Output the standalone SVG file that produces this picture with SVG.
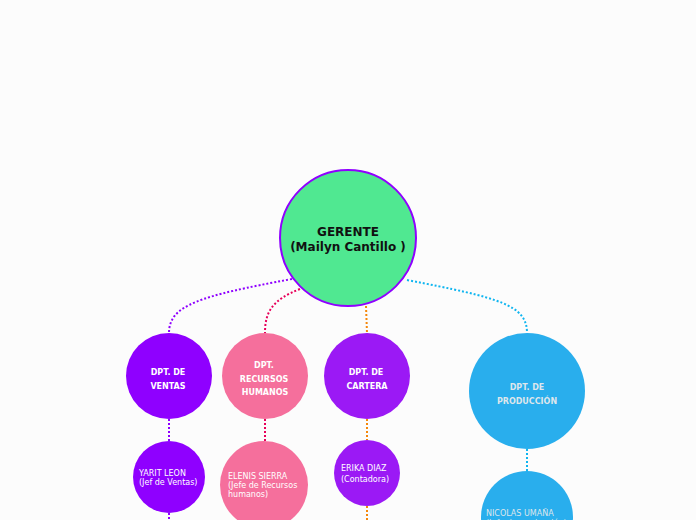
<svg xmlns="http://www.w3.org/2000/svg" width="696" height="520" viewBox="0 0 696 520">
<style>
.c{fill:none;stroke-width:2;stroke-dasharray:2 2}
.h{font-family:"DejaVu Sans",Verdana,sans-serif;font-weight:bold;font-size:12px;fill:#111;text-anchor:middle}
.d{font-family:"DejaVu Sans",Verdana,sans-serif;font-weight:bold;font-size:8px;fill:#fff;text-anchor:middle}
.p{font-family:"DejaVu Sans",Verdana,sans-serif;font-size:8px;fill:#fff}
</style>
<rect width="696" height="520" fill="#fcfcfc"/>
<g id="connectors">
<path class="c" stroke="#8f00ff" d="M292 279 C200 296 169 305 169 333"/>
<path class="c" stroke="#e8005a" d="M300 289 C272 300 265 312 265 333"/>
<path class="c" stroke="#f5870a" d="M366 306 L367 333"/>
<path class="c" stroke="#0fb5f0" d="M407 280 C500 298 527 305 527 333"/>
<path class="c" stroke="#8f00ff" d="M169 419 L169 441"/>
<path class="c" stroke="#8f00ff" d="M169 513 L169 520"/>
<path class="c" stroke="#e8005a" d="M265 419 L265 441"/>
<path class="c" stroke="#f5870a" d="M367 419 L367 440"/>
<path class="c" stroke="#f5870a" d="M367 506 L367 520"/>
<path class="c" stroke="#0fb5f0" d="M527 449 L527 471"/>
</g>
<g id="gerente">
<circle cx="348" cy="238" r="68" fill="#50e891" stroke="#8f00ff" stroke-width="2"/>
<text class="h" x="348" y="236">GERENTE</text>
<text class="h" x="348" y="251">(Mailyn Cantillo )</text>
</g>
<g id="ventas">
<circle cx="169" cy="376" r="43" fill="#8f00ff"/>
<text class="d" x="168" y="375">DPT. DE</text>
<text class="d" x="168" y="389">VENTAS</text>
</g>
<g id="rrhh">
<circle cx="265" cy="376" r="43" fill="#f56f9c"/>
<text class="d" x="264" y="368">DPT.</text>
<text class="d" x="264" y="382">RECURSOS</text>
<text class="d" x="265" y="395">HUMANOS</text>
</g>
<g id="cartera">
<circle cx="367" cy="376" r="43" fill="#9b19f5"/>
<text class="d" x="366" y="375">DPT. DE</text>
<text class="d" x="367" y="389">CARTERA</text>
</g>
<g id="produccion">
<circle cx="527" cy="391" r="58" fill="#29aeed"/>
<text class="d" x="527" y="390" fill="#dde6ec" style="fill:#dde6ec">DPT. DE</text>
<text class="d" x="527" y="404" style="fill:#dde6ec">PRODUCCIÓN</text>
</g>
<g id="yarit">
<circle cx="169" cy="477" r="36" fill="#8f00ff"/>
<text class="p" x="139" y="476">YARIT LEON</text>
<text class="p" x="139" y="485">(Jef de Ventas)</text>
</g>
<g id="elenis">
<circle cx="264" cy="485" r="44" fill="#f56f9c"/>
<text class="p" x="228" y="479">ELENIS SIERRA</text>
<text class="p" x="228" y="488">(Jefe de Recursos</text>
<text class="p" x="228" y="497">humanos)</text>
</g>
<g id="erika">
<circle cx="367" cy="473" r="33" fill="#9b19f5"/>
<text class="p" x="341" y="471">ERIKA DIAZ</text>
<text class="p" x="341" y="482">(Contadora)</text>
</g>
<g id="nicolas">
<circle cx="527" cy="517" r="46" fill="#29aeed"/>
<text class="p" x="486" y="516" style="fill:#dde6ec">NICOLAS UMAÑA</text>
<text class="p" x="486" y="526" style="fill:#dde6ec">(Jefe de producción)</text>
</g>
</svg>
